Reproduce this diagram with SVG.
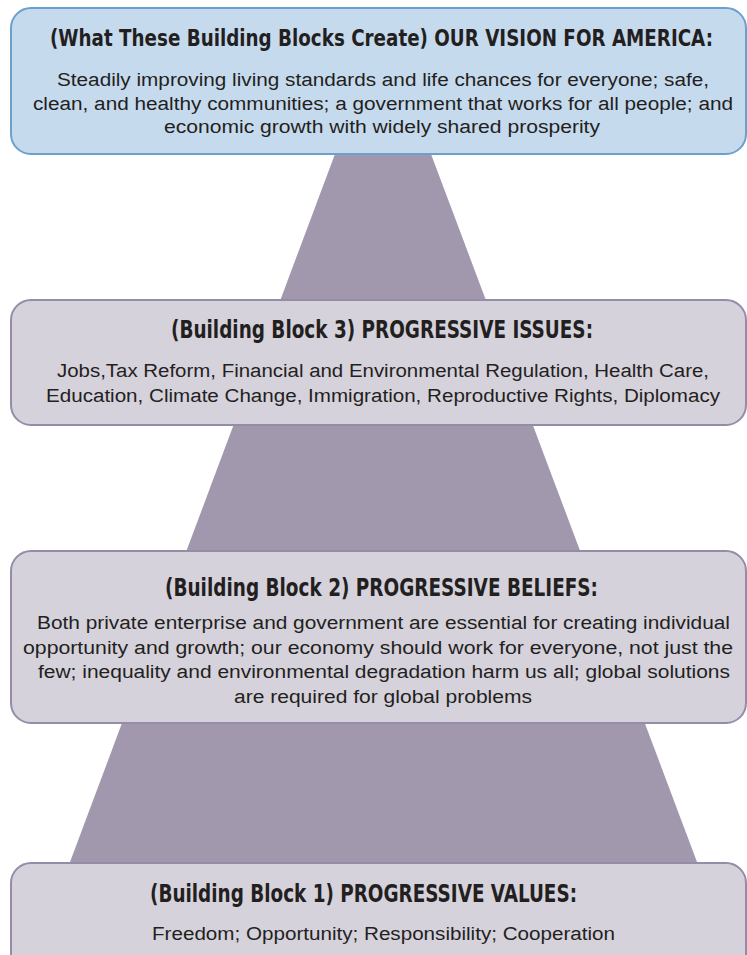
<svg xmlns="http://www.w3.org/2000/svg" width="747" height="955" viewBox="0 0 747 955">
<style>
.vision{fill:#c6daee;stroke:#6c9fcd;stroke-width:2}
.block{fill:#d5d2dc;stroke:#958ca8;stroke-width:2}
.h{font-family:"Liberation Sans Narrow","DejaVu Sans Condensed","Liberation Sans",sans-serif;font-weight:bold;font-size:24px;fill:#231f20}
.b{font-family:"Liberation Sans","Helvetica",sans-serif;font-size:18px;fill:#231f20}
</style>
<rect width="747" height="955" fill="#ffffff"/>
<g id="connectors">
<polygon points="335,154 431,154 700,870 67,870" fill="#a298ae"/>
</g>
<g id="vision">
<rect class="vision" x="11" y="8" width="735" height="146" rx="20"/>
<text class="h" x="50" y="46" style="font-size:22.5px" textLength="663" lengthAdjust="spacingAndGlyphs">(What These Building Blocks Create) OUR VISION FOR AMERICA:</text>
<text class="b" x="57" y="86" textLength="652" lengthAdjust="spacingAndGlyphs">Steadily improving living standards and life chances for everyone; safe,</text>
<text class="b" x="33" y="110" textLength="700" lengthAdjust="spacingAndGlyphs">clean, and healthy communities; a government that works for all people; and</text>
<text class="b" x="164" y="133" textLength="436" lengthAdjust="spacingAndGlyphs">economic growth with widely shared prosperity</text>
</g>
<g id="block3">
<rect class="block" x="11" y="300" width="735" height="125" rx="20"/>
<text class="h" x="171" y="338" textLength="422" lengthAdjust="spacingAndGlyphs">(Building Block 3) PROGRESSIVE ISSUES:</text>
<text class="b" x="57" y="377" textLength="652" lengthAdjust="spacingAndGlyphs">Jobs,Tax Reform, Financial and Environmental Regulation, Health Care,</text>
<text class="b" x="46" y="402" textLength="674" lengthAdjust="spacingAndGlyphs">Education, Climate Change, Immigration, Reproductive Rights, Diplomacy</text>
</g>
<g id="block2">
<rect class="block" x="11" y="551" width="735" height="172" rx="20"/>
<text class="h" x="165" y="596" textLength="433" lengthAdjust="spacingAndGlyphs">(Building Block 2) PROGRESSIVE BELIEFS:</text>
<text class="b" x="37" y="629" textLength="693" lengthAdjust="spacingAndGlyphs">Both private enterprise and government are essential for creating individual</text>
<text class="b" x="23" y="654" textLength="710" lengthAdjust="spacingAndGlyphs">opportunity and growth; our economy should work for everyone, not just the</text>
<text class="b" x="38" y="678" textLength="692" lengthAdjust="spacingAndGlyphs">few; inequality and environmental degradation harm us all; global solutions</text>
<text class="b" x="234" y="703" textLength="298" lengthAdjust="spacingAndGlyphs">are required for global problems</text>
</g>
<g id="block1">
<rect class="block" x="11" y="863" width="735" height="120" rx="20"/>
<text class="h" x="150" y="902" textLength="427" lengthAdjust="spacingAndGlyphs">(Building Block 1) PROGRESSIVE VALUES:</text>
<text class="b" x="152" y="940" textLength="463" lengthAdjust="spacingAndGlyphs">Freedom; Opportunity; Responsibility; Cooperation</text>
</g>
</svg>
